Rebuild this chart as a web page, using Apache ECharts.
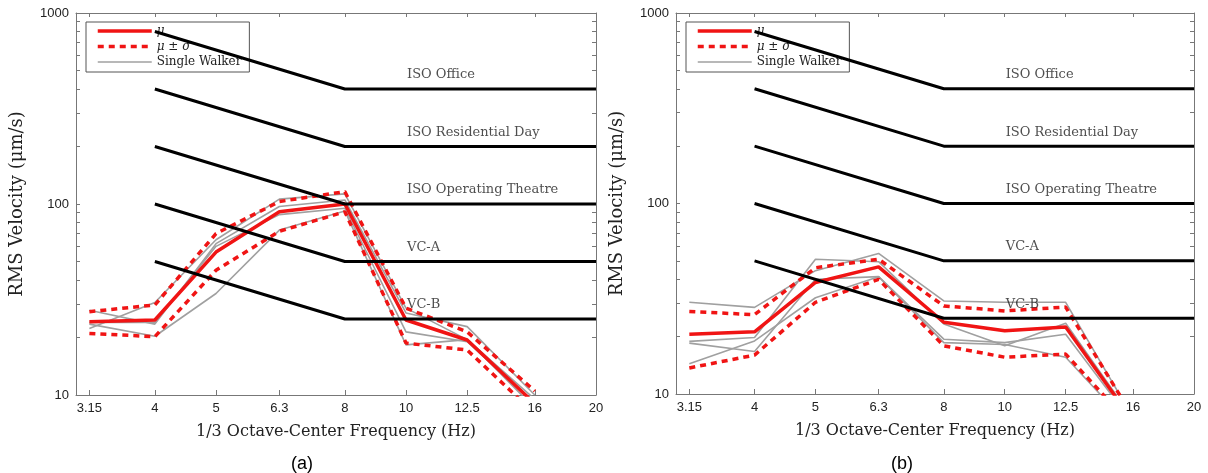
<!DOCTYPE html>
<html>
<head>
<meta charset="utf-8">
<script src="https://cdn.jsdelivr.net/npm/echarts@6/dist/echarts.min.js"></script>
<style>
html,body{margin:0;padding:0;background:#fff;}
#c{width:1208px;height:473px;}
</style>
</head>
<body>
<div id="c"></div>
<script>
// ---- data ----
const freqs = [3.15, 4, 5, 6.3, 8, 10, 12.5, 16];
const tickFreqs = [3.15, 4, 5, 6.3, 8, 10, 12.5, 16, 20];
const tickLabels = ['3.15', '4', '5', '6.3', '8', '10', '12.5', '16', '20'];
const yTickValues = [10,20,30,40,50,60,70,80,90,100,200,300,400,500,600,700,800,900,1000];
const yLabelValues = [10, 100, 1000];

// ISO / VC criteria: value at 4 Hz, value from 8 Hz to 20 Hz
const critNames = ['ISO Office', 'ISO Residential Day', 'ISO Operating Theatre', 'VC-A', 'VC-B'];
const critAt4 = [800, 400, 200, 100, 50];
const critFlat = [400, 200, 100, 50, 25];
const critFreqs = [4, 8, 20];
const critLabelFreq = 10;

// panel (a)
const aMean  = [24.2, 24.7, 56, 91, 100, 24.7, 19.4, 9];
const aUpper = [27.3, 29.6, 70, 103, 116, 28.5, 21.4, 10.5];
const aLower = [21.0, 20.2, 45, 72, 91, 18.7, 17.2, 8];
const aWalker1 = [22.3, 30.5, 65, 106, 113, 28.5, 19.5, 9.5];
const aWalker2 = [27.8, 23.5, 62, 97, 105, 26.9, 22.8, 10];
const aWalker3 = [24.0, 24.0, 60, 88, 95, 21.4, 19.0, 9];
const aWalker4 = [23.5, 20.3, 34, 73, 92, 18.3, 19.5, 8.5];

// panel (b)
const bMean  = [20.6, 21.2, 38.5, 46.5, 23.8, 21.5, 22.5, 7.2];
const bUpper = [27.1, 26.1, 46, 51, 29.0, 27.3, 28.6, 7.6];
const bLower = [13.7, 16.0, 30.3, 40, 17.9, 15.6, 16.2, 6.7];
const bWalker1 = [30.3, 28.5, 44.4, 54.7, 30.8, 30.3, 30.3, 7.5];
const bWalker2 = [18.9, 19.8, 51, 49.5, 23.3, 17.9, 23.5, 7.4];
const bWalker3 = [18.5, 16.7, 40, 41.3, 19.4, 18.6, 20.6, 7.0];
const bWalker4 = [14.4, 19.0, 32, 41.3, 18.6, 18.2, 15.6, 6.5];

// ---- styling ----
const SERIF = 'DejaVu Serif';
const SANS = 'Liberation Sans';
const AX = '#777';
const RED = '#f01414';
const GRAY = '#a0a0a0';
const TXT = '#222';
const MEAN_LINE = { color: RED, width: 3.5 };
const SD_LINE = { color: RED, width: 3.5, type: [6, 5] };
const WALK_LINE = { color: GRAY, width: 1.6 };

function pairs(ys) { return freqs.map((f, i) => [f, ys[i]]); }
function labelFor(v) {
  let best = 0, d = Infinity;
  tickFreqs.forEach((f, i) => { const e = Math.abs(Math.log(f) - Math.log(v)); if (e < d) { d = e; best = i; } });
  return tickLabels[best];
}

function xAxes(gridIndex) {
  return [
    {
      type: 'log', logBase: 10, gridIndex, min: 3, max: 20, position: 'bottom',
      axisLine: { lineStyle: { color: AX, width: 1 } },
      axisTick: { inside: true, length: 5, customValues: tickFreqs, lineStyle: { color: AX } },
      axisLabel: { customValues: tickFreqs, formatter: labelFor, fontFamily: SANS, fontSize: 13, color: TXT, margin: 7 },
      splitLine: { show: false }, minorTick: { show: false },
      name: '1/3 Octave-Center Frequency (Hz)', nameLocation: 'middle', nameGap: 29,
      nameTextStyle: { fontFamily: SERIF, fontSize: 16, color: TXT }
    },
    {
      type: 'log', logBase: 10, gridIndex, min: 3, max: 20, position: 'top',
      axisLine: { lineStyle: { color: AX, width: 1 } },
      axisTick: { inside: true, length: 4, customValues: tickFreqs, lineStyle: { color: AX } },
      axisLabel: { show: false }, splitLine: { show: false }
    }
  ];
}
function yAxes(gridIndex) {
  return [
    {
      type: 'log', logBase: 10, gridIndex, min: 10, max: 1000, position: 'left',
      axisLine: { show: true, lineStyle: { color: AX, width: 1 } },
      axisTick: { show: true, inside: true, length: 4, customValues: yTickValues, lineStyle: { color: AX } },
      axisLabel: { customValues: yLabelValues, formatter: v => String(Math.round(v)),
        fontFamily: SANS, fontSize: 13, color: TXT, margin: 7 },
      splitLine: { show: false },
      name: 'RMS Velocity (μm/s)', nameLocation: 'middle', nameGap: 50,
      nameTextStyle: { fontFamily: SERIF, fontSize: 18, color: TXT }
    },
    {
      type: 'log', logBase: 10, gridIndex, min: 10, max: 1000, position: 'right',
      axisLine: { show: true, lineStyle: { color: AX, width: 1 } },
      axisTick: { show: true, inside: true, length: 4, customValues: yTickValues, lineStyle: { color: AX } },
      axisLabel: { show: false }, splitLine: { show: false }
    }
  ];
}

function panelSeries(xi, yi, mean, upper, lower, walkers) {
  const s = [];
  walkers.forEach(w => s.push({
    name: 'Single Walker', type: 'line', xAxisIndex: xi, yAxisIndex: yi, data: pairs(w),
    symbol: 'none', lineStyle: WALK_LINE, itemStyle: { color: GRAY }, z: 2
  }));
  [upper, lower].forEach(d => s.push({
    name: 'μ ± σ', type: 'line', xAxisIndex: xi, yAxisIndex: yi, data: pairs(d),
    symbol: 'none', lineStyle: SD_LINE, itemStyle: { color: RED }, z: 3
  }));
  s.push({
    name: 'μ', type: 'line', xAxisIndex: xi, yAxisIndex: yi, data: pairs(mean),
    symbol: 'none', lineStyle: MEAN_LINE, itemStyle: { color: RED }, z: 4
  });
  critNames.forEach((n, i) => s.push({
    name: n, type: 'line', xAxisIndex: xi, yAxisIndex: yi,
    data: [[critFreqs[0], critAt4[i]], [critFreqs[1], critFlat[i]], [critFreqs[2], critFlat[i]]],
    symbol: 'none', lineStyle: { color: '#000', width: 3 }, itemStyle: { color: '#000' }, z: 5, silent: true
  }));
  s.push({
    name: 'criteria labels', type: 'scatter', xAxisIndex: xi, yAxisIndex: yi, symbolSize: 0, silent: true, z: 6,
    data: critNames.map((n, i) => ({ name: n, value: [critLabelFreq, critFlat[i]] })),
    label: { show: true, position: 'right', distance: 1, offset: [0, -14], formatter: '{b}',
      fontFamily: SERIF, fontSize: 13, color: TXT }
  });
  return s;
}

function legend(left) {
  return {
    left, top: 22, orient: 'vertical',
    data: [
      { name: 'μ', lineStyle: MEAN_LINE },
      { name: 'μ ± σ', lineStyle: SD_LINE },
      { name: 'Single Walker', lineStyle: WALK_LINE }
    ],
    itemWidth: 54, itemHeight: 12, itemGap: 3.5, padding: [3, 8, 4, 10],
    backgroundColor: '#fff', borderColor: '#555', borderWidth: 1,
    selectedMode: false,
    itemStyle: { opacity: 0, borderWidth: 0 },
    formatter: n => n === 'μ' ? '{i|μ}' : (n === 'μ ± σ' ? '{i|μ} ± {i|σ}' : n),
    textStyle: { fontFamily: SERIF, fontSize: 12, color: TXT, lineHeight: 12,
      rich: { i: { fontFamily: SERIF, fontSize: 12, fontStyle: 'italic', color: TXT } } }
  };
}

const chart = echarts.init(document.getElementById('c'), null, { renderer: 'canvas' });
chart.setOption({
  animation: false,
  backgroundColor: '#fff',
  title: [
    { text: '(a)', left: 286, top: 450, textStyle: { fontFamily: SANS, fontSize: 18, fontWeight: 'normal', color: '#000' } },
    { text: '(b)', left: 886, top: 450, textStyle: { fontFamily: SANS, fontSize: 18, fontWeight: 'normal', color: '#000' } }
  ],
  grid: [
    { left: 76, top: 13, width: 520, height: 382 },
    { left: 676, top: 13, width: 518, height: 381 }
  ],
  xAxis: [...xAxes(0), ...xAxes(1)],
  yAxis: [...yAxes(0), ...yAxes(1)],
  legend: [legend(86), legend(686)],
  series: [
    ...panelSeries(0, 0, aMean, aUpper, aLower, [aWalker1, aWalker2, aWalker3, aWalker4]),
    ...panelSeries(2, 2, bMean, bUpper, bLower, [bWalker1, bWalker2, bWalker3, bWalker4])
  ]
});
</script>
</body>
</html>
